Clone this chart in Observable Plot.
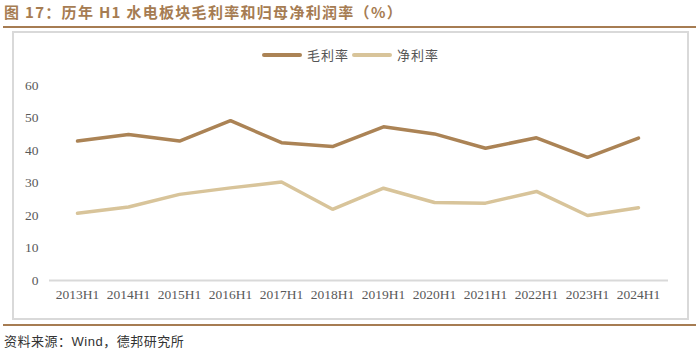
<!DOCTYPE html>
<html><head><meta charset="utf-8">
<script src="https://cdn.jsdelivr.net/npm/d3@7"></script>
<script src="https://cdn.jsdelivr.net/npm/@observablehq/plot@0.6"></script>
<style>
body{margin:0;background:#fff;}
#wrap{position:relative;width:696px;height:354px;overflow:hidden;font-family:"Noto Sans CJK SC",sans-serif;}
#title{position:absolute;left:4px;top:1px;font-size:15px;font-weight:bold;color:#A67C52;white-space:nowrap;letter-spacing:1.3px;}
#rule1{position:absolute;left:3px;top:26px;width:693px;height:2px;background:#A67C52;}
#frame{position:absolute;left:12px;top:31px;width:673px;height:285px;border:2px solid #d9d9d9;}
#rule2{position:absolute;left:3px;top:324px;width:693px;height:2px;background:#A67C52;}
#src{position:absolute;left:4px;top:331px;font-size:13px;color:#333;white-space:nowrap;letter-spacing:0.5px;}
#legend{position:absolute;left:262px;top:45px;font-size:13px;color:#555;display:flex;align-items:center;white-space:nowrap;letter-spacing:1px;}
.sw{display:inline-block;width:40px;height:4px;border-radius:2px;margin-right:5px;}
#chart{position:absolute;left:14px;top:33px;}
</style></head>
<body><div id="wrap">
<div id="title">图 17：历年 H1 水电板块毛利率和归母净利润率（%）</div>
<div id="rule1"></div>
<div id="frame"></div>
<div id="legend"></div>
<div id="chart"></div>
<div id="rule2"></div>
<div id="src">资料来源：<span style="font-family:'Liberation Sans',sans-serif">Wind</span>，德邦研究所</div>
</div>
<script>
const periods = ["2013H1","2014H1","2015H1","2016H1","2017H1","2018H1","2019H1","2020H1","2021H1","2022H1","2023H1","2024H1"];
const grossMargin = [42.9,44.9,42.9,49.2,42.4,41.2,47.3,45.1,40.7,43.9,37.9,43.8];
const netMargin = [20.7,22.6,26.5,28.5,30.3,21.9,28.4,24.0,23.8,27.4,20.0,22.4];
const seriesNames = ["毛利率","净利率"];
const seriesColors = ["#AB8355","#D8C49A"];
const yTicks = [0,10,20,30,40,50,60];

const data = [];
periods.forEach((p,i)=>{
  data.push({period:p, series:seriesNames[0], value:grossMargin[i]});
  data.push({period:p, series:seriesNames[1], value:netMargin[i]});
});

const legend = document.getElementById("legend");
seriesNames.forEach((n,i)=>{
  const item = document.createElement("span");
  item.style.display="inline-flex";item.style.alignItems="center";item.style.marginRight="3px";
  item.innerHTML = `<span class="sw" style="background:${seriesColors[i]}"></span><span>${n}</span>`;
  legend.appendChild(item);
});

const chart = Plot.plot({
  width: 674,
  height: 286,
  marginLeft: 35,
  marginRight: 20,
  marginTop: 52,
  marginBottom: 39,
  style: {fontFamily: "'Liberation Serif', serif", fontSize: "13.5px", color: "#595959", background: "transparent"},
  x: {type: "point", domain: periods, range: [59, 628], padding: 0, label: null, tickSize: 0, tickPadding: 9},
  y: {domain: [0,60], ticks: yTicks, label: null, tickSize: 0, tickPadding: 11},
  color: {domain: seriesNames, range: seriesColors},
  marks: [
    Plot.ruleY([0], {stroke: "#d9d9d9", strokeWidth: 2}),
    Plot.line(data, {x: "period", y: "value", z: "series", stroke: "series", strokeWidth: 3.5, strokeLinejoin: "miter"}),
    Plot.axisX({tickSize: 0, tickPadding: 9, label: null}),
    Plot.axisY({ticks: yTicks, tickSize: 0, tickPadding: 11, label: null})
  ]
});
document.getElementById("chart").appendChild(chart);
</script>
</body></html>
